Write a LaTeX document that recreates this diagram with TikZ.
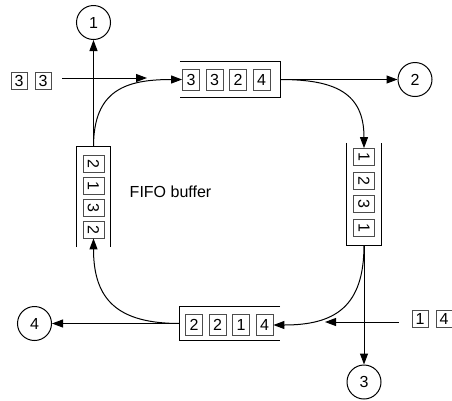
\documentclass[tikz,border=0pt]{standalone}
\usepackage{fontspec}
\setmainfont{Liberation Sans}
\usetikzlibrary{arrows.meta}

\begin{document}
\begin{tikzpicture}[x=1pt,y=-1pt,
  font=\fontsize{16}{19}\selectfont,
  buf/.style={inner sep=0pt, minimum width=#1},
  slot/.style={draw=black!70, line width=0.8pt, inner sep=0pt, minimum width=17pt, minimum height=21pt},
  inslot/.style={draw=black!70, line width=0.8pt, inner sep=0pt, minimum width=16pt, minimum height=17pt},
  port/.style={draw, circle, line width=1pt, inner sep=0pt, minimum size=34pt},
  flow/.style={line width=1pt, -{Triangle[length=11pt,width=8pt]}}]
\useasboundingbox (0,0) rectangle (452,400);
% ports
\node[port] (p1) at (93.5,22.5) {1};
\node[port] (p2) at (415,79.5) {2};
\node[port] (p3) at (364,382) {3};
\node[port] (p4) at (34.5,323.5) {4};
% buffers
\node[buf=100pt, minimum height=35pt] (topbuf) at (230,79.5) {};
\node[buf=34pt, minimum height=102pt] (rightbuf) at (364,194) {};
\node[buf=100pt, minimum height=34pt] (botbuf) at (230,323.5) {};
\node[buf=34pt, minimum height=100pt] (leftbuf) at (93.5,197) {};
\draw[line width=1pt] (topbuf.north west) -- (topbuf.north east) -- (topbuf.south east) -- (topbuf.south west);
\draw[line width=1pt] (rightbuf.north west) -- (rightbuf.south west) -- (rightbuf.south east) -- (rightbuf.north east);
\draw[line width=1pt] (botbuf.north east) -- (botbuf.north west) -- (botbuf.south west) -- (botbuf.south east);
\draw[line width=1pt] (leftbuf.south west) -- (leftbuf.north west) -- (leftbuf.north east) -- (leftbuf.south east);
% packets
\node[slot] (t1) at (191,79.5) {3};
\node[slot] (t2) at (214.5,79.5) {3};
\node[slot] (t3) at (238,79.5) {2};
\node[slot] (t4) at (261.5,79.5) {4};
\node[slot, rotate=-90] (r1) at (364,157) {1};
\node[slot, rotate=-90] (r2) at (364,180.5) {2};
\node[slot, rotate=-90] (r3) at (364,204) {3};
\node[slot, rotate=-90] (r4) at (364,227.5) {1};
\node[slot] (b1) at (194,325) {2};
\node[slot] (b2) at (217.5,325) {2};
\node[slot] (b3) at (241,325) {1};
\node[slot] (b4) at (264.5,325) {4};
\node[slot, rotate=-90] (l1) at (93.5,163.5) {2};
\node[slot, rotate=-90] (l2) at (93.5,185.5) {1};
\node[slot, rotate=-90] (l3) at (93.5,207.5) {3};
\node[slot, rotate=-90] (l4) at (93.5,229.5) {2};
% arrivals
\node[inslot] (a1) at (19,81) {3};
\node[inslot] (a2) at (43,81) {3};
\node[inslot] (e1) at (420,319) {1};
\node[inslot] (e2) at (444,319) {4};
\coordinate (atip) at (147,78);
\coordinate (etip) at (325,322);
\node (lbl) at (170.5,192) {FIFO buffer};
% links
\draw[flow] (a2.east |- atip) [shorten <=11pt] -- (atip);
\draw[flow] (e1.west |- etip) [shorten <=13pt] -- (etip);
\draw[flow] (leftbuf.north) -- (p1.south);
\draw[flow] (leftbuf.north) to[out=90, in=180, looseness=1.3] (t1.west);
\draw[flow] (topbuf.east) -- (p2.west);
\draw[flow] (topbuf.east) to[out=0, in=90, looseness=1.3] (r1.west);
\draw[flow] (rightbuf.south) -- (p3.north);
\draw[flow] (rightbuf.south) to[out=-90, in=0, looseness=1.3] (b4.east);
\draw[flow] (botbuf.west) -- (p4.east);
\draw[flow] (botbuf.west) to[out=180, in=-90, looseness=1.3] (l4.east);
\end{tikzpicture}
\end{document}
